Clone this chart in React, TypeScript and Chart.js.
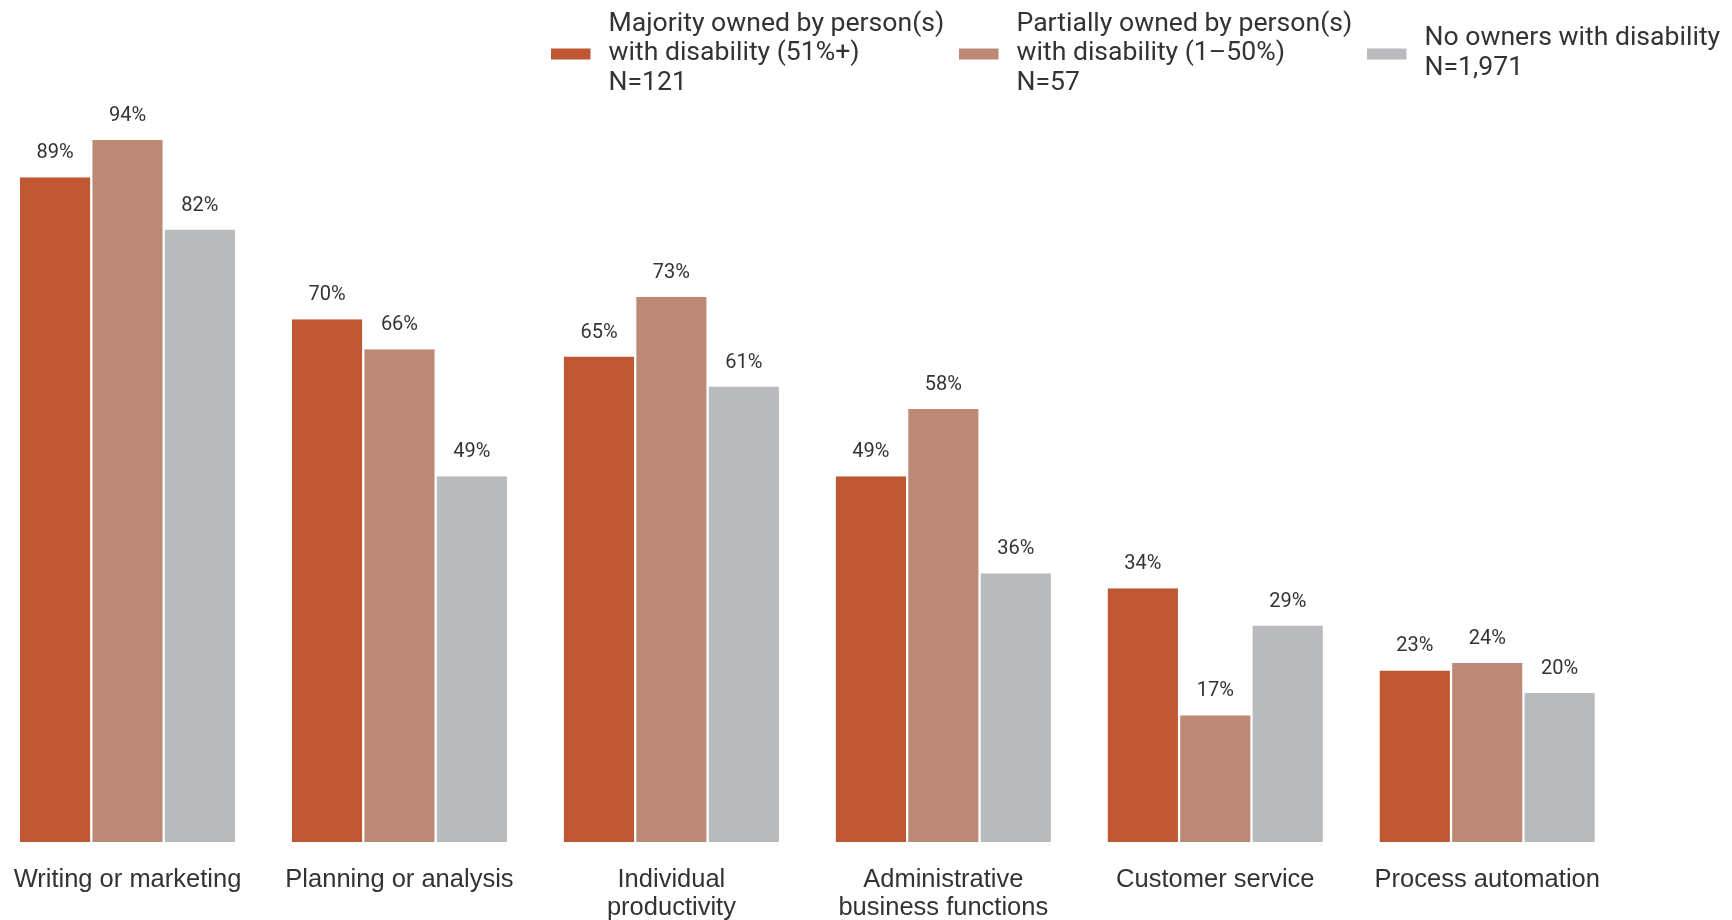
import React, { useEffect, useRef } from "react";
import { Chart, registerables } from "chart.js";

Chart.register(...registerables);

const categories: (string | string[])[] = [
  "Writing or marketing",
  "Planning or analysis",
  ["Individual", "productivity"],
  ["Administrative", "business functions"],
  "Customer service",
  "Process automation",
];

const majorityValues = [89, 70, 65, 49, 34, 23];
const partialValues = [94, 66, 73, 58, 17, 24];
const noneValues = [82, 49, 61, 36, 29, 20];

const seriesLabels: string[][] = [
  ["Majority owned by person(s)", "with disability (51%+)", "N=121"],
  ["Partially owned by person(s)", "with disability (1\u201350%)", "N=57"],
  ["No owners with disability", "N=1,971"],
];

const seriesColors = ["#BF5832", "#BD8977", "#B9BABE"];

const SHIFT = 20; // canvas is shifted left by this many px

// legend item left edges (page px)
const legendBoxX = [551, 959, 1367];

const legendPlugin = {
  id: "customLegend",
  afterDraw(chart: any) {
    const ctx = chart.ctx as CanvasRenderingContext2D;
    ctx.save();
    ctx.font = "26.6px Roboto";
    ctx.fillStyle = "#333333";
    ctx.textAlign = "left";
    ctx.textBaseline = "alphabetic";
    const boxW = 39.5;
    const boxH = 11;
    const textGap = 57.5;
    const lineH = 29.5;
    const midBaseline = 60;
    const boxCenter = 54;
    seriesLabels.forEach((lines, i) => {
      const x = legendBoxX[i] + SHIFT;
      ctx.fillStyle = seriesColors[i];
      ctx.fillRect(x, boxCenter - boxH / 2, boxW, boxH);
      ctx.fillStyle = "#333333";
      const n = lines.length;
      lines.forEach((l, j) => {
        const y = midBaseline + (j - (n - 1) / 2) * lineH;
        ctx.fillText(l, x + textGap, y);
      });
    });
    ctx.restore();
  },
};

const valueLabelPlugin = {
  id: "valueLabels",
  afterDatasetsDraw(chart: any) {
    const ctx = chart.ctx as CanvasRenderingContext2D;
    ctx.save();
    ctx.font = "20px Roboto";
    ctx.fillStyle = "#333333";
    ctx.textAlign = "center";
    ctx.textBaseline = "alphabetic";
    chart.data.datasets.forEach((ds: any, di: number) => {
      const meta = chart.getDatasetMeta(di);
      meta.data.forEach((bar: any, i: number) => {
        ctx.fillText(`${ds.data[i]}%`, bar.x, bar.y - 19);
      });
    });
    ctx.restore();
  },
};

export default function App() {
  const canvasRef = useRef<HTMLCanvasElement | null>(null);

  useEffect(() => {
    if (!canvasRef.current) return;
    const mk = (i: number, data: number[]) => ({
      label: seriesLabels[i].join(" "),
      data,
      backgroundColor: seriesColors[i],
      borderColor: "#ffffff",
      borderWidth: { left: 1.15, right: 1.15, top: 0, bottom: 0 },
      borderSkipped: false,
      barPercentage: 1,
      categoryPercentage: 0.799,
    });
    const chart = new Chart(canvasRef.current, {
      type: "bar",
      data: {
        labels: categories as any,
        datasets: [
          mk(0, majorityValues),
          mk(1, partialValues),
          mk(2, noneValues),
        ],
      },
      options: {
        animation: false,
        responsive: false,
        maintainAspectRatio: false,
        layout: {
          padding: { top: 95.1, bottom: 0, left: 11.53, right: 108.8 },
        },
        plugins: {
          legend: { display: false },
          tooltip: { enabled: false },
          title: { display: false },
        },
        scales: {
          x: {
            grid: { display: false, drawTicks: false },
            border: { display: false },
            ticks: {
              color: "#333333",
              font: { family: "'Liberation Sans', Arial, sans-serif", size: 25.5, lineHeight: 1.1 },
              padding: 24,
              maxRotation: 0,
              autoSkip: false,
            },
            afterFit: (scale: any) => {
              scale.height = 77.7;
            },
          },
          y: {
            display: false,
            min: 0,
            max: 100,
          },
        },
      } as any,
      plugins: [valueLabelPlugin, legendPlugin],
    });
    return () => chart.destroy();
  }, []);

  return (
    <div
      style={{
        position: "absolute",
        left: -SHIFT,
        top: 0,
        width: 1732 + SHIFT,
        height: 920,
        background: "#ffffff",
      }}
    >
      <canvas
        ref={canvasRef}
        width={1732 + SHIFT}
        height={920}
        style={{ display: "block", width: 1732 + SHIFT, height: 920 }}
      />
    </div>
  );
}
